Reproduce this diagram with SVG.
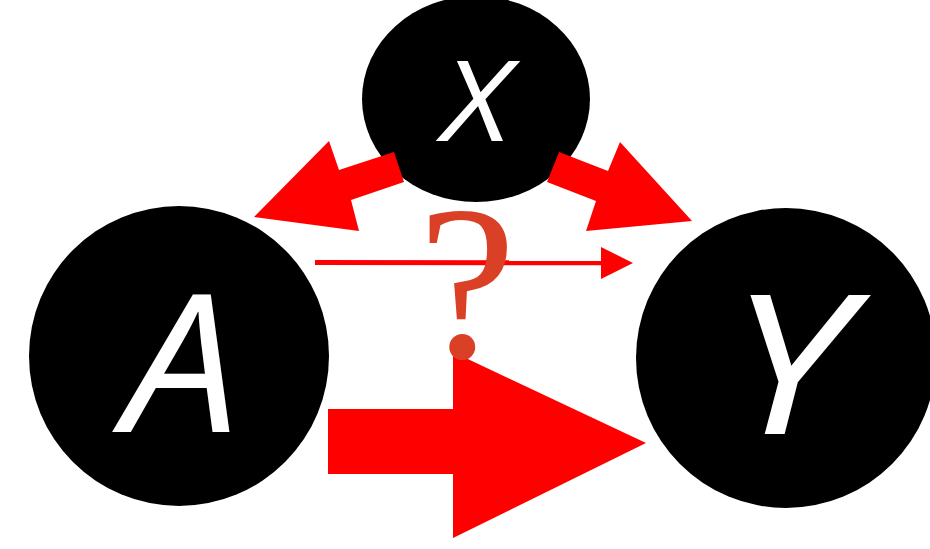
<svg xmlns="http://www.w3.org/2000/svg" width="930" height="549" viewBox="0 0 930 549">
<style>
.node{fill:#000}
.lbl{fill:#fff;font-family:"Open Sans","Noto Sans",sans-serif;font-style:italic;text-anchor:middle}
.arr{fill:#ff0000}
.q{fill:#d94026;font-family:"Liberation Serif","Times New Roman",serif;text-anchor:middle}
</style>
<rect width="930" height="549" fill="#fff"/>
<g id="node-X"><ellipse class="node" cx="476" cy="99" rx="114" ry="103"/><text class="lbl" x="476.5" y="141" font-size="112" transform="translate(479,0) scale(1.15,1) translate(-479,0)">X</text></g>
<g id="node-A"><circle class="node" cx="179" cy="356" r="150"/><text class="lbl" x="181" y="432" font-size="193" transform="translate(173,0) scale(1.07,1) translate(-173,0)">A</text></g>
<g id="node-Y"><circle class="node" cx="786" cy="358" r="150"/><text class="lbl" x="792" y="434" font-size="195" transform="translate(807,0) scale(1.22,1) translate(-807,0)">Y</text></g>
<g id="connectors">
<polygon class="arr" points="394,152 339,170 329,141 254,217 359,231 351,200 404,182"/>
<polygon class="arr" points="559,152 608,171 620,142 692,221 586,231 596,201 547,182"/>
<line x1="315" y1="262.5" x2="602" y2="262.8" stroke="#ff0000" stroke-width="5"/>
<polygon class="arr" points="601,247 633,263 601,279"/>
<polygon class="arr" points="328,409 453,409 453,352 646,443 453,538 453,474 328,474"/>
</g>
<text class="q" x="467" y="357" font-size="220">?</text>
</svg>
